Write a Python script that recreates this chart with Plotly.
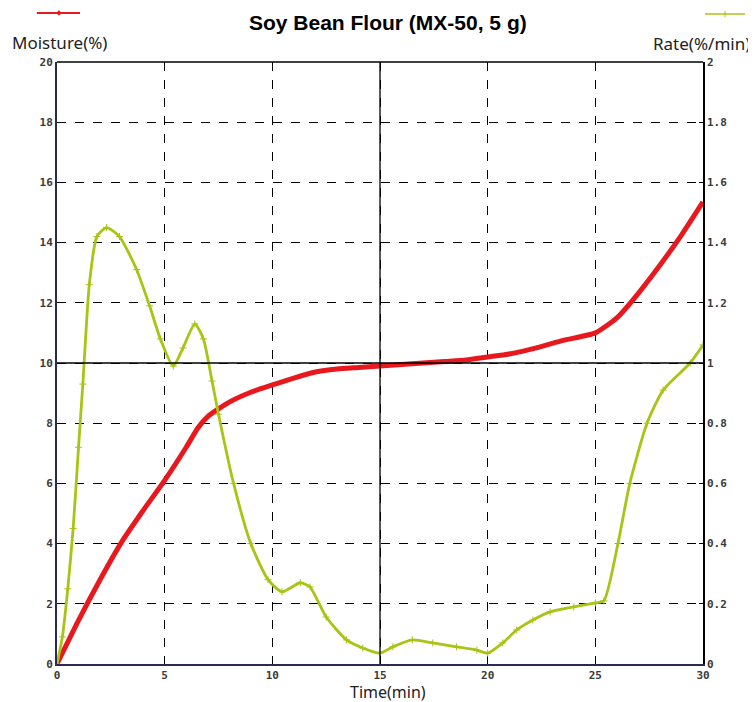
import plotly.graph_objects as go

# Moisture (%) vs time (min)
moist_t = [0, 1, 2, 3, 4, 5, 6, 6.55, 7, 8, 9, 10, 11, 12, 13, 14, 15, 16, 17, 18, 19, 20, 21, 22.4, 23.5, 25, 26, 26.75, 28, 29, 30]
moist_v = [0, 1.45, 2.8, 4.05, 5.1, 6.1, 7.2, 7.85, 8.22, 8.7, 9.03, 9.27, 9.5, 9.7, 9.8, 9.85, 9.9, 9.95, 10.0, 10.05, 10.1, 10.2, 10.3, 10.53, 10.75, 11.0, 11.5, 12.1, 13.25, 14.25, 15.35]

# Rate (%/min) vs time (min)
rate_t = [0, 0.25, 0.5, 0.75, 1.0, 1.2, 1.5, 1.85, 2.3, 2.9, 3.7, 4.3, 4.8, 5.4, 5.85, 6.4, 6.8, 7.2, 7.5, 8.2, 9.0, 9.8, 10.45, 11.3, 11.75, 12.5, 13.45, 14.2, 15.0, 15.6, 16.5, 17.45, 18.55, 19.5, 20.0, 20.7, 21.35, 22.1, 22.9, 24, 25.0, 25.4, 26.05, 26.6, 27.4, 28.15, 29.4, 30]
rate_v = [0, 0.09, 0.25, 0.45, 0.72, 0.93, 1.26, 1.42, 1.45, 1.42, 1.31, 1.19, 1.08, 0.99, 1.05, 1.13, 1.08, 0.94, 0.83, 0.60, 0.40, 0.28, 0.24, 0.27, 0.256, 0.156, 0.08, 0.053, 0.036, 0.057, 0.08, 0.07, 0.057, 0.046, 0.036, 0.07, 0.113, 0.146, 0.173, 0.19, 0.203, 0.21, 0.40, 0.60, 0.80, 0.91, 1.0, 1.06]

x_ticks = [0, 5, 10, 15, 20, 25, 30]
y_ticks = [0, 2, 4, 6, 8, 10, 12, 14, 16, 18, 20]
y2_ticks = [0, 0.2, 0.4, 0.6, 0.8, 1, 1.2, 1.4, 1.6, 1.8, 2]

RED = "#e8191e"
GREEN = "#a8c414"
tickfont = dict(family="DejaVu Sans Mono", size=11, color="#3a3a3a", weight="bold")

fig = go.Figure()
fig.add_trace(go.Scatter(x=rate_t, y=rate_v, yaxis="y2", mode="lines+markers",
                         line=dict(color=GREEN, width=2.8, shape="spline", smoothing=0.6),
                         marker=dict(symbol="cross-thin", size=5, line=dict(color=GREEN, width=1)),
                         showlegend=False))
fig.add_trace(go.Scatter(x=moist_t, y=moist_v, mode="lines",
                         line=dict(color=RED, width=5, shape="spline", smoothing=0.6),
                         showlegend=False))

# page body has an 8px offset; figure sized so that plot area sits at x 57-703, y 62-664 in the window
fig.update_layout(
    width=748, height=694,
    margin=dict(l=49, r=53, t=54, b=38, autoexpand=False),
    paper_bgcolor="white", plot_bgcolor="white",
    xaxis=dict(range=[0, 30], tickvals=x_ticks, ticks="", showgrid=True, gridcolor="black", griddash="dash",
               gridwidth=1.3, showline=True, linecolor="#2a2a55", linewidth=2, mirror=False,
               tickfont=tickfont, zeroline=False, ticklen=0),
    yaxis=dict(range=[0, 20], tickvals=y_ticks, ticks="", showgrid=True, gridcolor="black", griddash="dash",
               gridwidth=1.3, showline=True, linecolor="#2a2a55", linewidth=2, tickfont=tickfont,
               zeroline=False),
    yaxis2=dict(range=[0, 2], tickvals=y2_ticks, overlaying="y", side="right", showgrid=False,
                showline=True, linecolor="black", linewidth=1.5, tickfont=tickfont, zeroline=False,
                ticks="inside", ticklen=4, tickcolor="black"),
    showlegend=False,
)

# Center solid reference lines and top border
fig.add_shape(type="line", xref="x", yref="paper", x0=15, x1=15, y0=0, y1=1, line=dict(color="black", width=1.3))
fig.add_shape(type="line", xref="paper", yref="y", x0=0, x1=1, y0=10, y1=10, line=dict(color="black", width=1.3))
fig.add_shape(type="line", xref="paper", yref="paper", x0=0, x1=1, y0=1, y1=1, line=dict(color="black", width=1.5))

# legend samples
fig.add_shape(type="line", xref="paper", yref="paper", x0=-0.031, x1=0.0356, y0=1.0814, y1=1.0814,
              line=dict(color=RED, width=2))
fig.add_shape(type="circle", xref="paper", yref="paper", x0=0.0005, x1=0.0055, y0=1.0773, y1=1.0855,
              fillcolor=RED, line=dict(color=RED, width=0))
fig.add_shape(type="line", xref="paper", yref="paper", x0=1.003, x1=1.065, y0=1.0797, y1=1.0797,
              line=dict(color=GREEN, width=1.5))
fig.add_shape(type="line", xref="paper", yref="paper", x0=1.034, x1=1.034, y0=1.0747, y1=1.0847,
              line=dict(color=GREEN, width=1))

fig.add_annotation(text="<b>Soy Bean Flour (MX-50, 5 g)</b>", xref="paper", yref="paper", x=0.512, y=1.0664,
                   xanchor="center", yanchor="middle", showarrow=False,
                   font=dict(family="Liberation Sans", size=21, color="black"))
fig.add_annotation(text="Moisture(%)", xref="paper", yref="paper", x=-0.0728, y=1.032, xanchor="left", yanchor="middle",
                   showarrow=False, font=dict(family="Noto Sans", size=17, color="#222222"))
fig.add_annotation(text="Rate(%/min)", xref="paper", yref="paper", x=1.0759, y=1.03, xanchor="right", yanchor="middle",
                   showarrow=False, font=dict(family="Noto Sans", size=17, color="#222222"))
fig.add_annotation(text="Time(min)", xref="paper", yref="paper", x=0.512, y=-0.047, xanchor="center", yanchor="middle",
                   showarrow=False, font=dict(family="Noto Sans", size=16, color="#222222"))

fig.write_html("out.html")
